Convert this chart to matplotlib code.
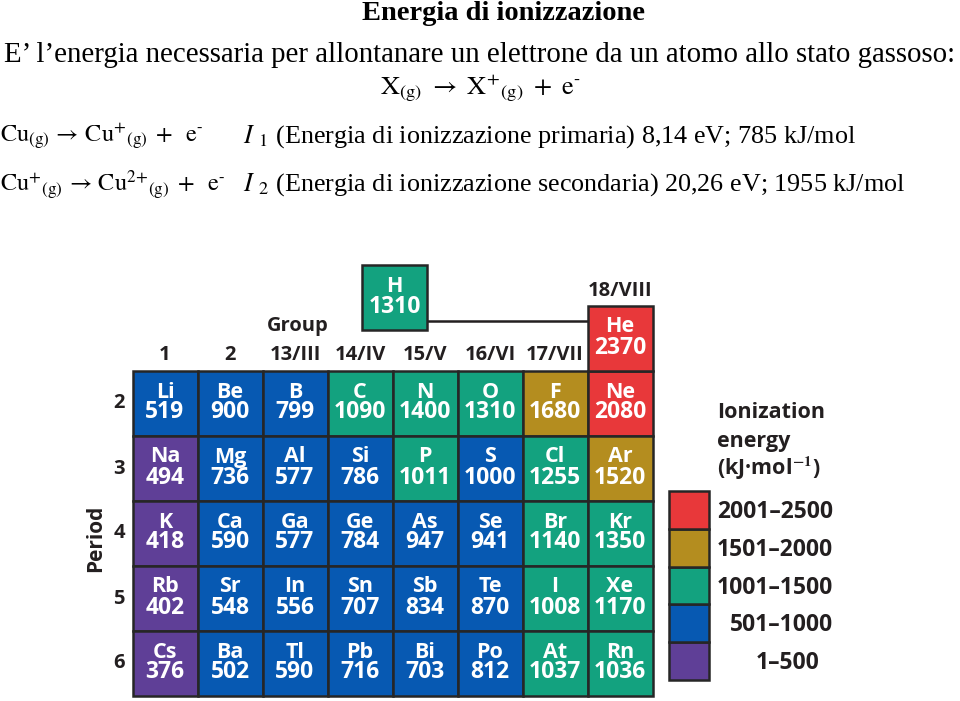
import matplotlib
matplotlib.use("Agg")
from matplotlib import pyplot as plt
from matplotlib.patches import Rectangle
import numpy as np

plt.rcParams['mathtext.fontset'] = 'stix'

# Dati: energia di prima ionizzazione (kJ/mol)
gruppi = ["1", "2", "13/III", "14/IV", "15/V", "16/VI", "17/VII", "18/VIII"]
periodi = [2, 3, 4, 5, 6]
simboli = [
    ["Li", "Be", "B", "C", "N", "O", "F", "Ne"],
    ["Na", "Mg", "Al", "Si", "P", "S", "Cl", "Ar"],
    ["K", "Ca", "Ga", "Ge", "As", "Se", "Br", "Kr"],
    ["Rb", "Sr", "In", "Sn", "Sb", "Te", "I", "Xe"],
    ["Cs", "Ba", "Tl", "Pb", "Bi", "Po", "At", "Rn"],
]
energie = [
    [519, 900, 799, 1090, 1400, 1310, 1680, 2080],
    [494, 736, 577, 786, 1011, 1000, 1255, 1520],
    [418, 590, 577, 784, 947, 941, 1140, 1350],
    [402, 548, 556, 707, 834, 870, 1008, 1170],
    [376, 502, 590, 716, 703, 812, 1037, 1036],
]
simbolo_h, energia_h = "H", 1310
simbolo_he, energia_he = "He", 2370

limiti = [500, 1000, 1500, 2000]
fasce = ["1–500", "501–1000", "1001–1500", "1501–2000", "2001–2500"]
colori = ["#5f3f97", "#0759b2", "#13a27f", "#b48d1f", "#e8383a"]

SANS = "Open Sans"
SERIF = "Liberation Serif"
SCURO = "#231f20"
BORDO = "#262626"

# geometria della tabella (pixel)
X0, CW = 132.5, 65.0
Y0, RH = 371.0, 65.0


def colore(val):
    return colori[int(np.digitize(val, limiti, right=True))]


def col_x(c):
    return X0 + c * CW


def row_y(p):
    return Y0 + (p - 2) * RH


def cella(ax, x, y, sym, val):
    ax.add_patch(Rectangle((x, y), CW, RH, facecolor=colore(val),
                           edgecolor=BORDO, linewidth=1.8, zorder=2))
    cx, cy = x + CW / 2, y + RH / 2
    ax.text(cx, cy - 6, sym, ha="center", va="baseline", color="white",
            fontsize=15.5, fontweight="bold", family=SANS, zorder=3)
    ax.text(cx, cy + 15, str(val), ha="center", va="baseline", color="white",
            fontsize=16.5, fontweight="bold", family=SANS, zorder=3)


fig = plt.figure(figsize=(9.6, 7.01), dpi=100)
ax = fig.add_axes([0, 0, 1, 1])
ax.set_xlim(0, 960)
ax.set_ylim(701, 0)
ax.axis("off")

# Testo in alto
ax.text(503, 13, "Energia di ionizzazione", ha="center", va="center",
        fontsize=20.5, fontweight="bold", family=SERIF)
ax.text(480, 55, "E’ l’energia necessaria per allontanare un elettrone da un atomo allo stato gassoso:",
        ha="center", va="center", fontsize=20.8, family=SERIF)
ax.text(481, 88, r"$\mathrm{X}_{\mathrm{(g)}}\ \rightarrow\ \mathrm{X}^{+}{}_{\mathrm{(g)}}\ +\ \mathrm{e}^{\text{-}}$",
        ha="center", va="center", fontsize=19, family=SERIF)
ax.text(0, 137, r"$\mathrm{Cu}_{\mathrm{(g)}}\,\rightarrow\,\mathrm{Cu}^{+}{}_{\mathrm{(g)}}\;+\;\;\mathrm{e}^{\text{-}}$",
        ha="left", va="center", fontsize=17.5, family=SERIF)
ax.text(243, 137, r"$\mathit{I}\ {}_{1}$ (Energia di ionizzazione primaria) 8,14 eV; 785 kJ/mol",
        ha="left", va="center", fontsize=18.8, family=SERIF)
ax.text(0, 185, r"$\mathrm{Cu}^{+}{}_{\mathrm{(g)}}\,\rightarrow\,\mathrm{Cu}^{\text{2+}}{}_{\mathrm{(g)}}\;+\;\;\mathrm{e}^{\text{-}}$",
        ha="left", va="center", fontsize=17.5, family=SERIF)
ax.text(243, 185, r"$\mathit{I}\ {}_{2}$ (Energia di ionizzazione secondaria) 20,26 eV; 1955 kJ/mol",
        ha="left", va="center", fontsize=18.8, family=SERIF)

# Celle principali
for i, p in enumerate(periodi):
    for j in range(len(gruppi)):
        cella(ax, col_x(j), row_y(p), simboli[i][j], energie[i][j])

# Idrogeno ed elio
hx, hy = col_x(3.5) + 2, row_y(0.37)
hex_, hey = col_x(7), row_y(1)
ax.plot([hx + CW, hex_], [hy + 56, hy + 56], color=SCURO, lw=1.8, zorder=1)
cella(ax, hx, hy, simbolo_h, energia_h)
cella(ax, hex_, hey, simbolo_he, energia_he)

# Etichette gruppi e periodi
for j, g in enumerate(gruppi[:-1]):
    ax.text(col_x(j) + CW / 2, 355, g, ha="center", va="center",
            fontsize=14.5, fontweight="bold", family=SANS, color=SCURO)
ax.text(col_x(7) + CW / 2, 291, gruppi[-1], ha="center", va="center",
        fontsize=14.5, fontweight="bold", family=SANS, color=SCURO)
ax.text(298, 326, "Group", ha="center", va="center",
        fontsize=14.5, fontweight="bold", family=SANS, color=SCURO)
for p in periodi:
    ax.text(119, row_y(p) + RH / 2, str(p), ha="center", va="center",
            fontsize=14.5, fontweight="bold", family=SANS, color=SCURO)
ax.text(95.5, 538, "Period", ha="center", va="center", rotation=90,
        fontsize=15, fontweight="bold", family=SANS, color=SCURO)

# Legenda
ax.text(717, 413, "Ionization", ha="left", va="center",
        fontsize=15.5, fontweight="bold", family=SANS, color=SCURO)
ax.text(717, 442, "energy", ha="left", va="center",
        fontsize=15.5, fontweight="bold", family=SANS, color=SCURO)
ax.text(717, 468, r"(kJ·mol$^{\mathbf{-1}}$)", ha="left", va="center",
        fontsize=15.5, fontweight="bold", family=SANS, color=SCURO)
LY, LH = 491.0, 37.8
dx_fasce = [819, 833, 833, 833, 833]
for k in range(len(fasce)):
    y = LY + (len(fasce) - 1 - k) * LH
    ax.add_patch(Rectangle((669, y), 40, LH, facecolor=colori[k],
                           edgecolor=BORDO, linewidth=1.8, zorder=2))
    ax.text(dx_fasce[k], y + LH / 2 + 2, fasce[k], ha="right", va="center",
            fontsize=16.5, fontweight="bold", family=SANS, color=SCURO)

fig.savefig("out.png", dpi=100, facecolor="white")
